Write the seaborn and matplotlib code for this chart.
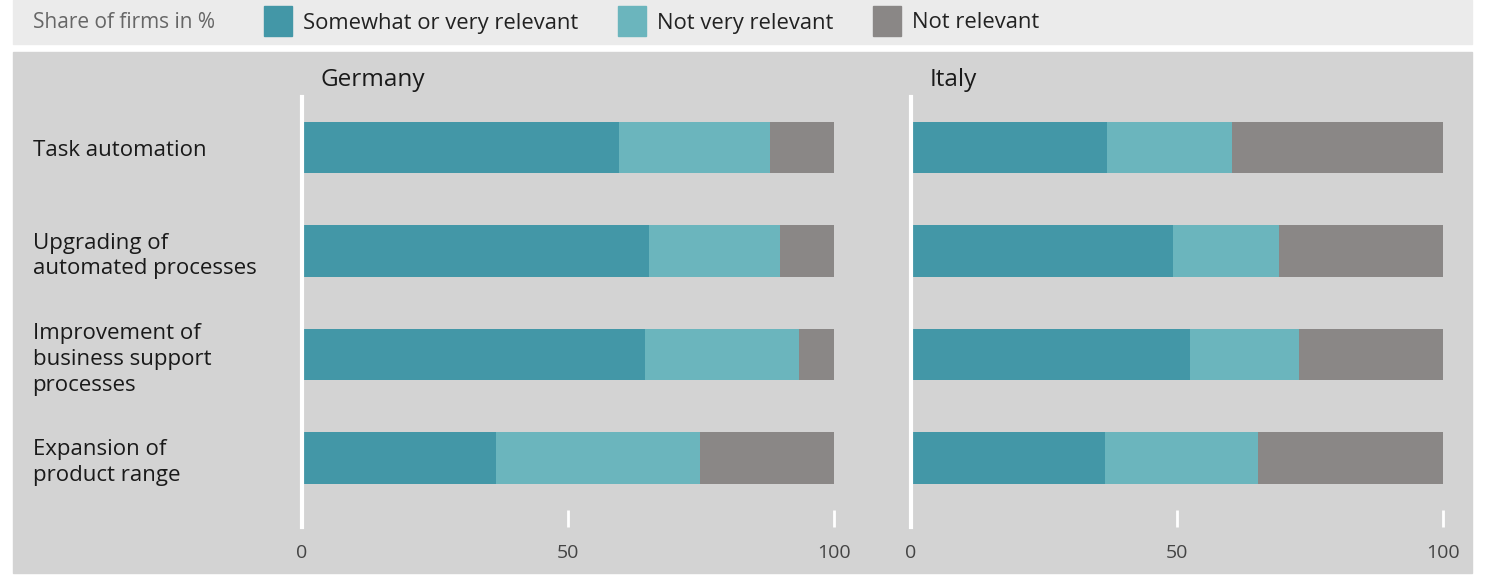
import pandas as pd
import seaborn as sns
import matplotlib.pyplot as plt
from matplotlib.patches import Rectangle

sns.set_theme(style="white")
plt.rcParams['font.family'] = ['Open Sans', 'DejaVu Sans']

categories = ["Task automation", "Upgrading of\nautomated processes",
              "Improvement of\nbusiness support\nprocesses",
              "Expansion of\nproduct range"]
countries = ["Germany", "Italy"]
levels = ["Somewhat or very relevant", "Not very relevant", "Not relevant"]
colors = ["#4397a7", "#6bb5bd", "#8a8786"]

# share of firms in %
germany_relevant = [59.5, 65.2, 64.5, 36.5]
germany_not_very = [28.5, 24.6, 28.9, 38.3]
germany_not = [12.0, 10.2, 6.6, 25.2]
italy_relevant = [36.9, 49.3, 52.5, 36.5]
italy_not_very = [23.4, 19.8, 20.4, 28.8]
italy_not = [39.7, 30.9, 27.1, 34.7]

rows = []
for country, parts in [("Germany", (germany_relevant, germany_not_very, germany_not)),
                       ("Italy", (italy_relevant, italy_not_very, italy_not))]:
    for i, cat in enumerate(categories):
        rows.append({"country": country, "category": cat,
                     levels[0]: parts[0][i], levels[1]: parts[1][i],
                     levels[2]: parts[2][i]})
df = pd.DataFrame(rows)
# cumulative ends for stacking
df["c1"] = df[levels[0]]
df["c2"] = df[levels[0]] + df[levels[1]]
df["c3"] = df["c2"] + df[levels[2]]

W, H = 1492, 579
fig = plt.figure(figsize=(W / 100, H / 100), dpi=100, facecolor="white")

# background bands
fig.patches.append(Rectangle((13 / W, 1 - 44 / H), 1459 / W, 44 / H,
                             transform=fig.transFigure, color="#ebebeb", zorder=-2))
fig.patches.append(Rectangle((13 / W, 6 / H), 1459 / W, 521 / H,
                             transform=fig.transFigure, color="#d3d3d3", zorder=-2))

# legend row
fig.text(33 / W, 1 - 23 / H, "Share of firms in %", fontsize=15, color="#666666",
         va="center", ha="left")
leg_x = [264, 618, 873]
for x, lab, col in zip(leg_x, levels, colors):
    fig.patches.append(Rectangle((x / W, 1 - 36 / H), 28 / W, 30 / H,
                                 transform=fig.transFigure, color=col, zorder=-1))
    fig.text((x + 39) / W, 1 - 23 / H, lab, fontsize=15.8, color="#222222",
             va="center", ha="left")

lefts = {"Germany": 302, "Italy": 911}
for country in countries:
    ax = fig.add_axes([lefts[country] / W, (H - 527) / H, 532 / W, 430 / H])
    ax.set_facecolor("none")
    sub = df[df["country"] == country]
    for col, c in zip(["c3", "c2", "c1"], colors[::-1]):
        sns.barplot(data=sub, x=col, y="category", orient="h", color=c,
                    width=0.5, ax=ax, saturation=1, errorbar=None, linewidth=0)
    ax.set_xlim(0, 100)
    ax.set_ylim(3.67, -0.49)
    ax.set_xlabel("")
    ax.set_ylabel("")
    for s in ["top", "right", "bottom"]:
        ax.spines[s].set_visible(False)
    ax.spines["left"].set_color("white")
    ax.spines["left"].set_linewidth(3)
    ax.spines["left"].set_zorder(5)
    ax.set_xticks([0, 50, 100])
    ax.tick_params(axis="x", direction="in", length=12, width=2, color="white",
                   pad=12, labelsize=14, labelcolor="#444444", bottom=True)
    if country == "Germany":
        ax.tick_params(axis="y", length=0, pad=194, labelsize=16, labelcolor="#1a1a1a")
        for t in ax.get_yticklabels():
            t.set_ha("left")
            t.set_linespacing(1.3)
    else:
        ax.set_yticklabels([])
        ax.tick_params(axis="y", length=0)
    ax.text(19 / 532, 1 + 17 / 430, country, transform=ax.transAxes, fontsize=17.5,
            color="#1a1a1a", va="center", ha="left")

plt.savefig("out.png", dpi=100)
